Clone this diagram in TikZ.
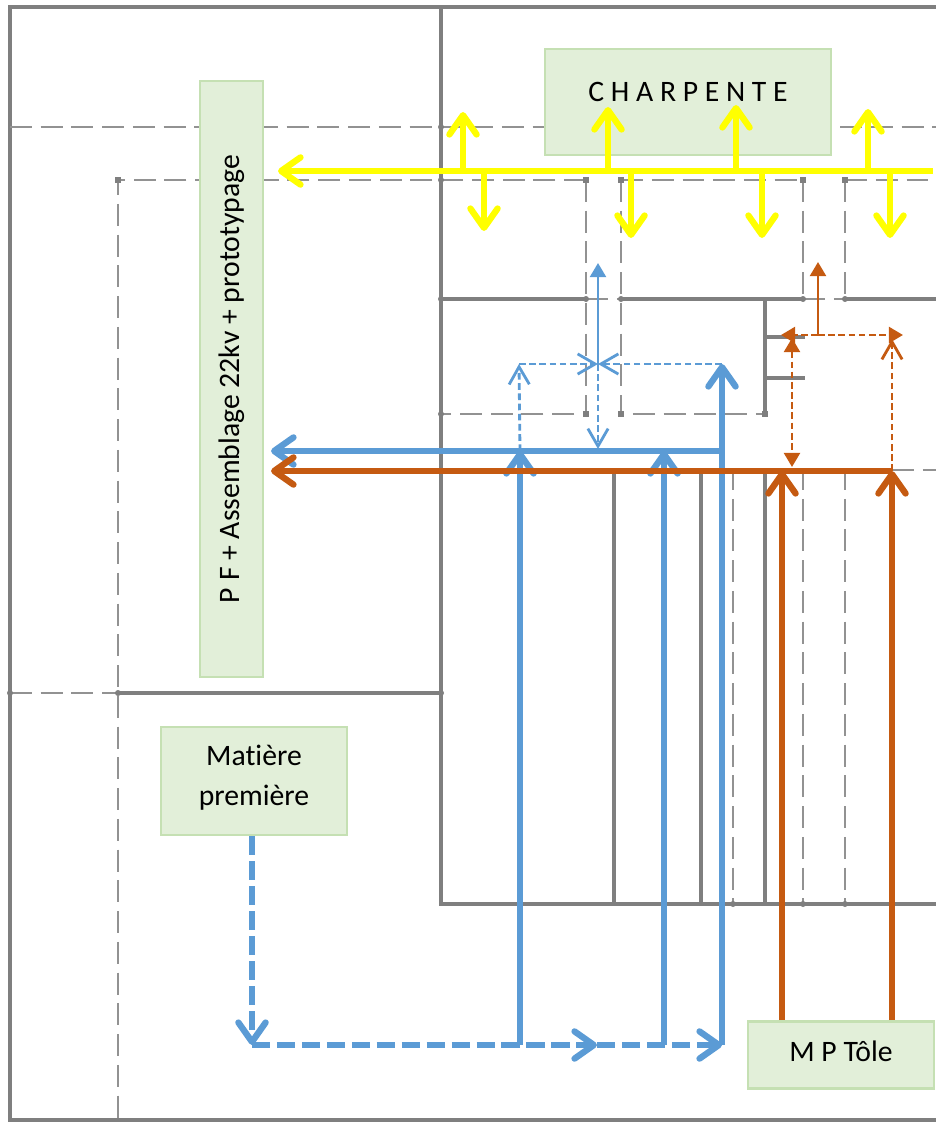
\documentclass[tikz,border=0pt]{standalone}
\usepackage{fontspec}
\setmainfont[Ligatures=NoCommon]{Carlito}
\usetikzlibrary{arrows.meta}
\definecolor{murgris}{HTML}{7F7F7F}
\definecolor{boitefond}{HTML}{E2EFD9}
\definecolor{boitebord}{HTML}{C5E0B3}
\definecolor{fluxbleu}{HTML}{5B9BD5}
\definecolor{fluxorange}{HTML}{C55A11}
\definecolor{fluxjaune}{HTML}{FFFF00}
\begin{document}
\def\u{0.02cm}
\begin{tikzpicture}[x=\u,y=-\u,>={Straight Barb[round,length=11pt,width=15.5pt]},line join=miter,
	font=\fontsize{16.9}{22.4}\selectfont,
	mur/.style={draw=murgris,line width=2.3pt},
	cadre/.style={draw=murgris,line width=2.6pt},
	tirets/.style={draw=murgris!85,line width=1.6pt,dash pattern=on 12.5pt off 5pt},
	boite/.style={draw=boitebord,line width=1.6pt,fill=boitefond,inner sep=0pt,align=center},
	epais/.style={line width=3.6pt},
	fin/.style={line width=1.6pt},
	pointille/.style={line width=1.6pt,dash pattern=on 3.8pt off 2pt},
	ouverte/.style={>={Straight Barb[length=10pt,width=11.5pt]}},
	pleine/.style={>={Triangle[length=8pt,width=9pt]}}]
	\useasboundingbox (0,0) rectangle (936,1122);
	\path
	(10,7) coordinate (NO)
	(936,7) coordinate (NE)
	(10,1120) coordinate (SO)
	(936,1120) coordinate (SE)
	(441,7) coordinate (H)
	(441,904) coordinate (B)
	(936,904) coordinate (BE)
	(118,693) coordinate (R)
	(441,693) coordinate (RE)
	;
	% cadre et murs
	\draw[cadre] (NE)--(NO)--(SO)--(SE);
	\draw[mur] (H)--(B)--(BE) (R)--(RE);
	\draw[mur] (441,299)--(586,299) (621,299)--(803,299) (845,299)--(936,299);
	\draw[mur] (765,299)--(765,414) (765,337)--(805,337) (765,378)--(805,378);
	\foreach \x in {614,701,765}{
		\draw[mur] (\x,468)--(\x,904);
	}
	% limites en tirets
	\draw[tirets] (10,127)--(936,127);
	\draw[tirets] (586,180)--(118,180)--(118,1120);
	\draw[tirets] (621,180)--(803,180) (845,180)--(936,180);
	\draw[tirets] (10,693)--(118,693);
	\draw[tirets] (586,180)--(586,414)--(441,414);
	\draw[tirets] (621,180)--(621,414)--(765,414);
	\draw[tirets] (803,180)--(803,299) (845,180)--(845,299);
	\draw[tirets] (586,299)--(621,299) (803,299)--(845,299);
	\draw[tirets] (892,470)--(936,470);
	\foreach \x in {733,803,845}{
		\draw[tirets] (\x,468)--(\x,904);
	}
	\foreach \x/\y in {118/180,586/180,621/180,803/180,845/180,586/414,621/414,765/414}{
		\fill[murgris] (\x-3,\y-3) rectangle (\x+3,\y+3);
	}
	\foreach \x/\y in {441/127,441/180,441/299,441/414,586/299,621/299,803/299,845/299,118/693,10/693,441/693,733/904,803/904,845/904}{
		\fill[murgris] (\x,\y) circle (3);
	}
	% boites
	\node[boite,minimum width=286*\u,minimum height=106*\u,text depth=12pt] (charpente) at (688,102) {C H A R P E N T E};
	\node[boite,rotate=90,minimum width=596*\u,minimum height=63*\u] (pf) at (231.5,379) {P F + Assemblage 22kv + prototypage};
	\node[boite,minimum width=186*\u,minimum height=108*\u,text depth=6.5pt] (matiere) at (254,781) {Matière\\première};
	\node[boite,minimum width=186*\u,minimum height=67*\u,text depth=4.5pt] (tole) at (841,1055) {M P Tôle};
	% flux charpente
	\path (278,171) coordinate (J0) (933,171) coordinate (J1);
	\draw[fluxjaune,epais,<-] (J0)--(J1);
	\foreach \x/\y in {463/112,608/107,736/105,868/109}{
		\path (\x,171) coordinate (J2) (\x,\y) coordinate (J3);
		\draw[fluxjaune,epais,->] (J2)--(J3);
	}
	\foreach \x/\y in {484/231,631/238,762/238,890/238}{
		\path (\x,171) coordinate (J2) (\x,\y) coordinate (J3);
		\draw[fluxjaune,epais,->] (J2)--(J3);
	}
	% flux bleu
	\path
	(252,1045) coordinate (M)
	(520,1045) coordinate (M1)
	(597,1045) coordinate (M2)
	(664,1045) coordinate (M3)
	(722,1045) coordinate (M4)
	(520,451) coordinate (L1)
	(664,451) coordinate (L3)
	(722,451) coordinate (L4)
	(722,364) coordinate (L5)
	(271,451) coordinate (L0)
	(598,449) coordinate (C0)
	(598,364) coordinate (C)
	(598,263) coordinate (C1)
	(519,364) coordinate (C2)
	;
	\draw[fluxbleu,epais,dash pattern=on 10.5pt off 3.7pt,->] (M |- matiere.south)--(M);
	\draw[fluxbleu,epais,dash pattern=on 10.5pt off 3.7pt,->] (M)--(M2);
	\draw[fluxbleu,epais,dash pattern=on 10.5pt off 3.7pt,->] (M2)--(M4);
	\draw[fluxbleu,epais,->] (M1)--(L1);
	\draw[fluxbleu,epais,->] (M3)--(L3);
	\draw[fluxbleu,epais,->] (M4)--(L5);
	\draw[fluxbleu,epais,->] (L4)--(L0);
	\draw[fluxbleu,fin,pleine,->] (C)--(C1);
	\draw[fluxbleu,pointille,ouverte,->] (L5)--(C);
	\draw[fluxbleu,pointille,ouverte,->] (C2)--(C);
	\draw[fluxbleu,pointille,ouverte,->] (L1)--(C2);
	\draw[fluxbleu,pointille,ouverte,->] (C)--(C0);
	% flux tole
	\path
	(782,1021) coordinate (T1)
	(892,1021) coordinate (T2)
	(782,471) coordinate (K1)
	(892,471) coordinate (K2)
	(271,471) coordinate (K0)
	(818,335) coordinate (E)
	(818,262) coordinate (E1)
	(781,335) coordinate (E2)
	(903,335) coordinate (E3)
	(792,338) coordinate (D1)
	(792,467) coordinate (D2)
	(892,339) coordinate (D3)
	;
	\draw[fluxorange,epais,->] (T1 |- tole.north)--(K1);
	\draw[fluxorange,epais,->] (T2 |- tole.north)--(K2);
	\draw[fluxorange,epais,->] (K2)--(K0);
	\draw[fluxorange,fin,pleine,->] (E)--(E1);
	\draw[fluxorange,pointille,pleine,->] (E)--(E2);
	\draw[fluxorange,pointille,pleine,->] (E)--(E3);
	\draw[fluxorange,pointille,pleine,<->] (D1)--(D2);
	\draw[fluxorange,pointille,ouverte,->] (K2)--(D3);
\end{tikzpicture}
\end{document}
